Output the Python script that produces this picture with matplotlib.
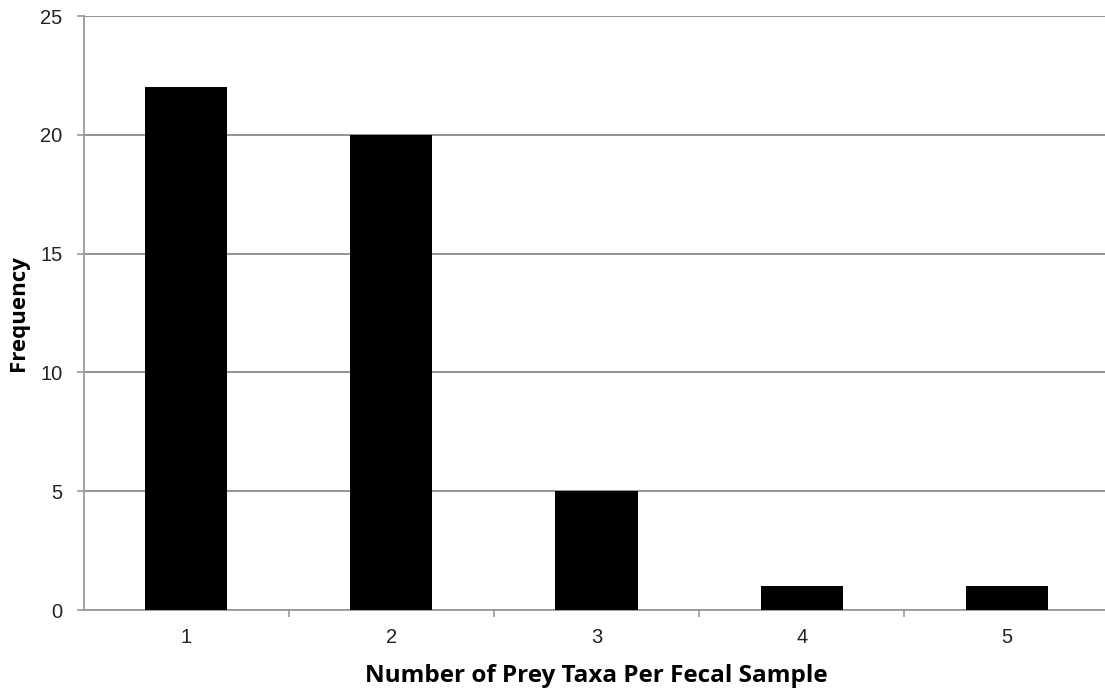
import matplotlib
matplotlib.use("Agg")
import matplotlib.pyplot as plt

categories = [1, 2, 3, 4, 5]
frequency = [22, 20, 5, 1, 1]
ytick_values = [0, 5, 10, 15, 20, 25]

fig = plt.figure(figsize=(11.05, 6.93), dpi=100)
ax = fig.add_axes([83.5/1105, 1 - 610/693, 1026/1105, (610 - 16)/693])

ax.bar(categories, frequency, width=0.4, color="black", zorder=3)
ax.set_xlim(0.5, 5.5)
ax.set_ylim(0, 25)
ax.set_yticks(ytick_values)
ax.set_xticks(categories)
ax.set_xticks([1.5, 2.5, 3.5, 4.5], minor=True)
ax.yaxis.grid(True, color="#8a8a8a", linewidth=1.3, zorder=0)
ax.set_axisbelow(True)

for s in ["top", "right"]:
    ax.spines[s].set_visible(False)
for s in ["left", "bottom"]:
    ax.spines[s].set_color("#9a9a9a")
    ax.spines[s].set_linewidth(1.3)

ax.tick_params(axis="x", which="major", length=0, pad=13, labelsize=14.5,
               labelcolor="#222222")
ax.tick_params(axis="x", which="minor", length=5, color="#9a9a9a", width=1.2)
ax.tick_params(axis="y", length=5, color="#9a9a9a", width=1.2, pad=10,
               labelsize=14.5, labelcolor="#222222")
for lbl in ax.get_xticklabels() + ax.get_yticklabels():
    lbl.set_fontfamily("Liberation Sans")

ax.set_xlabel("Number of Prey Taxa Per Fecal Sample", fontsize=17.5,
              fontweight="bold", fontfamily="Open Sans", labelpad=12)
ax.set_ylabel("Frequency", fontsize=16, fontweight="bold",
              fontfamily="Open Sans", labelpad=8)

fig.savefig("out.png", dpi=100)
